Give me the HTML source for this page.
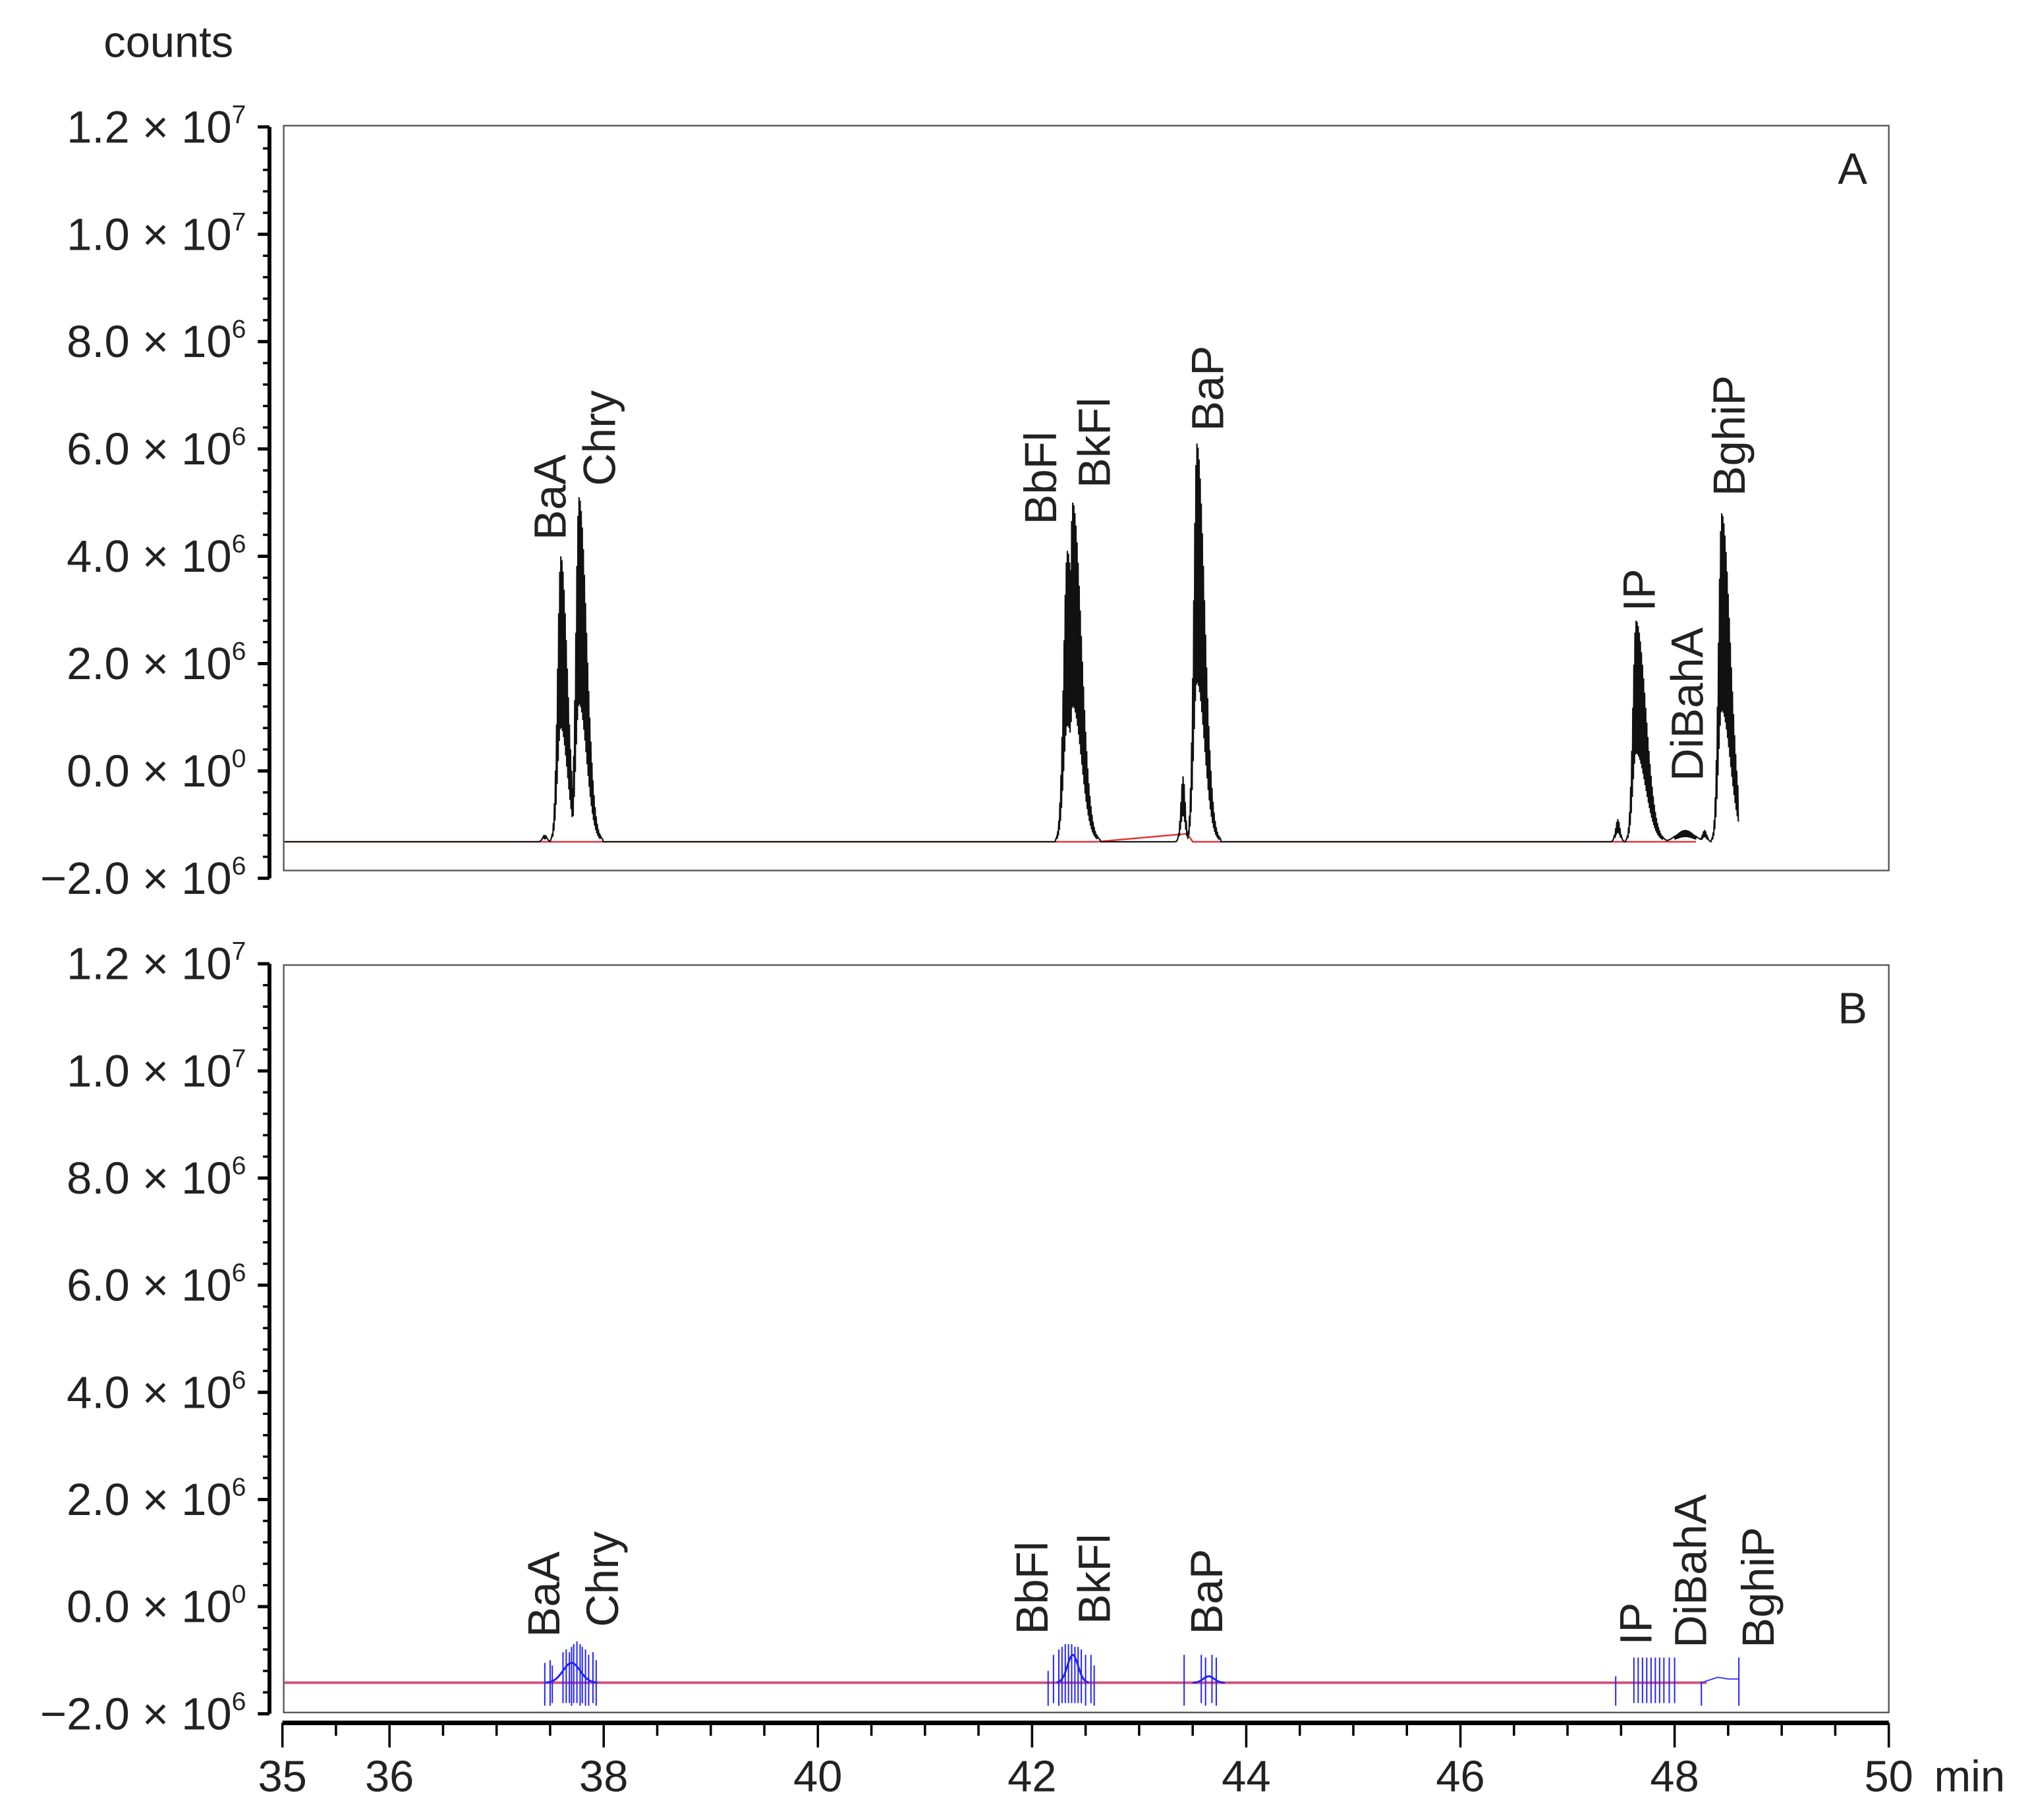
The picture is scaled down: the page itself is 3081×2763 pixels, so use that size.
<!DOCTYPE html>
<html><head><meta charset="utf-8"><style>
html,body{margin:0;padding:0;background:#fff;}
svg{display:block;font-family:"Liberation Sans",sans-serif;}
</style></head><body>
<svg id="chart" width="3081" height="2763" viewBox="0 0 1567 1405" preserveAspectRatio="none" xmlns="http://www.w3.org/2000/svg">
<rect x="0" y="0" width="1567" height="1405" fill="#fff"/>
<g id="root"></g>
</svg>
<script>
// ---- data ----
const yTickValues = [12e6, 10e6, 8e6, 6e6, 4e6, 2e6, 0, -2e6];
const yTickMant = ["1.2", "1.0", "8.0", "6.0", "4.0", "2.0", "0.0", "\u22122.0"];
const yTickExp = ["7", "7", "6", "6", "6", "6", "0", "6"];
const xTickValues = [35, 36, 38, 40, 42, 44, 46, 48, 50];
const compoundNames = ["BaA", "Chry", "BbFl", "BkFl", "BaP", "IP", "DiBahA", "BghiP"];
// panel A peaks: retention time (min), apex counts, left width, right width (min)
const peakTimesA = [37.60, 37.77, 42.33, 42.38, 43.54, 47.64, 48.10, 48.44];
const peakHeightsA = [4.0e6, 5.1e6, 4.1e6, 5.0e6, 6.1e6, 2.8e6, -1.1e6, 4.8e6];
const peakLeftA = [0.03, 0.03, 0.035, 0.03, 0.03, 0.03, 0.08, 0.03];
const peakRightA = [0.06, 0.07, 0.07, 0.08, 0.07, 0.09, 0.08, 0.08];
const smallBumpTimesA = [37.45, 43.41, 47.47, 48.28];
const smallBumpHeightsA = [-1.2e6, -0.1e6, -0.9e6, -1.1e6];
const baselineA = -1.32e6;
const baselineB = -1.42e6;
// label anchors (time at label centre, value at label bottom)
const labelTimesA = [37.50, 37.96, 42.08, 42.58, 43.64, 47.67, 48.12, 48.51];
const labelTopA = [4.3e6, 5.31e6, 4.59e6, 5.27e6, 6.33e6, 2.97e6, -0.19e6, 5.12e6];
const labelTimesB = [37.44, 37.99, 42.00, 42.58, 43.63, 47.64, 48.15, 48.78];
const labelTopB = [-0.57e6, -0.38e6, -0.52e6, -0.33e6, -0.52e6, -0.72e6, -0.77e6, -0.77e6];
// panel B spikes: times, top values, bottom values
const spikeTimesB = [37.45,37.5,37.52,37.62,37.65,37.68,37.7,37.72,37.75,37.78,37.8,37.83,37.86,37.9,37.93,
 42.15,42.2,42.25,42.28,42.31,42.34,42.37,42.4,42.43,42.46,42.5,42.55,42.58,
 43.42,43.58,43.62,43.68,43.72,
 47.45,47.62,47.66,47.7,47.74,47.78,47.82,47.86,47.9,47.95,48.0,48.25,48.6];
const spikeTopB = [-1.05e6,-1.0e6,-1.1e6,-0.85e6,-0.8e6,-0.85e6,-0.75e6,-0.7e6,-0.65e6,-0.7e6,-0.75e6,-0.8e6,-0.9e6,-0.85e6,-1.0e6,
 -1.2e6,-0.9e6,-0.8e6,-0.75e6,-0.7e6,-0.7e6,-0.7e6,-0.75e6,-0.75e6,-0.8e6,-0.9e6,-0.9e6,-1.1e6,
 -0.9e6,-0.9e6,-0.95e6,-0.9e6,-0.95e6,
 -1.3e6,-0.95e6,-0.95e6,-0.95e6,-0.95e6,-0.95e6,-0.95e6,-0.95e6,-0.95e6,-0.95e6,-0.95e6,-1.4e6,-0.95e6];
const spikeBottomB = [-1.85e6,-1.85e6,-1.8e6,-1.8e6,-1.8e6,-1.8e6,-1.85e6,-1.8e6,-1.8e6,-1.85e6,-1.8e6,-1.85e6,-1.85e6,-1.8e6,-1.85e6,
 -1.85e6,-1.8e6,-1.85e6,-1.8e6,-1.8e6,-1.8e6,-1.8e6,-1.8e6,-1.8e6,-1.8e6,-1.85e6,-1.8e6,-1.85e6,
 -1.85e6,-1.8e6,-1.85e6,-1.8e6,-1.85e6,
 -1.85e6,-1.8e6,-1.8e6,-1.8e6,-1.8e6,-1.8e6,-1.8e6,-1.8e6,-1.8e6,-1.8e6,-1.8e6,-1.85e6,-1.85e6];

// ---- layout ----
const NS = "http://www.w3.org/2000/svg";
const root = document.getElementById('root');
const X0 = 218, X1 = 1458;
const panels = [
  {top: 97, bottom: 672, y12: 98, ym2: 678, letter: "A"},
  {top: 745, bottom: 1322, y12: 744, ym2: 1323, letter: "B"}
];
function xs(t){ return X0 + (t - 35) / 15 * (X1 - X0); }
function ysFor(p){ return v => p.y12 + (12e6 - v) / 14e6 * (p.ym2 - p.y12); }
function el(tag, attrs, parent){
  const e = document.createElementNS(NS, tag);
  for (const k in attrs) e.setAttribute(k, attrs[k]);
  (parent || root).appendChild(e);
  return e;
}

const counts = el('text', {x: 80, y: 44, 'font-size': 34, fill: '#222'});


counts.textContent = 'counts';

panels.forEach((p, pi) => {
  const ys = ysFor(p);
  const g = el('g', {});
  
  
  const box = el('rect', {x: X0 + 1, y: p.top, width: X1 - X0 - 1, height: p.bottom - p.top, fill: 'none', stroke: '#555', 'stroke-width': 1.2}, g);
  
  
  const ax = el('line', {x1: 208, y1: ys(12e6), x2: 208, y2: ys(-2e6), stroke: '#000', 'stroke-width': 3}, g);
  
  
  for (let v = -2e6; v <= 12e6 + 1; v += 0.4e6) {
    const major = Math.abs(v / 2e6 - Math.round(v / 2e6)) < 1e-6;
    const t = el('line', {x1: major ? 199 : 203, y1: ys(v), x2: 208, y2: ys(v), stroke: '#000', 'stroke-width': major ? 2.5 : 1.8}, g);
    
    
  }
  yTickValues.forEach((v, i) => {
    const tx = el('text', {x: 190, y: ys(v) + 12, 'font-size': 35, 'text-anchor': 'end', fill: '#222'}, g);
    
    
    const a = el('tspan', {}, tx); a.textContent = yTickMant[i] + ' \u00d7 10';
    const b = el('tspan', {dy: -15, 'font-size': 20}, tx); b.textContent = yTickExp[i];
  });
  const lt = el('text', {x: 1430, y: p.top + 45, 'font-size': 34, 'text-anchor': 'middle', fill: '#222'}, g);
  
  
  lt.textContent = p.letter;

  if (pi === 0) {
    const redPts = [[35.02, baselineA],[42.6, baselineA],[43.45, -1.17e6],[43.5, baselineA],[48.2, baselineA]];
    const rp = el('polyline', {points: redPts.map(q => xs(q[0]) + ',' + ys(q[1])).join(' '), fill: 'none', stroke: '#e03030', 'stroke-width': 1.2}, g);
    
    
    let pts = [];
    for (let t = 35.02; t <= 48.6; t += 0.005) {
      let v = baselineA;
      peakTimesA.forEach((c, i) => {
        const w = t < c ? peakLeftA[i] : peakRightA[i];
        const d = (t - c) / w;
        if (Math.abs(d) < 3.2) v = Math.max(v, baselineA + (peakHeightsA[i] - baselineA) * Math.exp(-d * d / 2));
      });
      smallBumpTimesA.forEach((c, i) => {
        const d = (t - c) / 0.02;
        v = Math.max(v, baselineA + (smallBumpHeightsA[i] - baselineA) * Math.exp(-d * d / 2));
      });
      const k = Math.round(t / 0.005);
      if (v > baselineA + 1e5 && k % 2 === 1) v = baselineA + (v - baselineA) * 0.4;
      pts.push(xs(t).toFixed(2) + ',' + ys(v).toFixed(2));
    }
    const bp = el('polyline', {points: pts.join(' '), fill: 'none', stroke: '#111', 'stroke-width': 1.1}, g);
    
    
  } else {
    const rp = el('line', {x1: xs(35.02), y1: ys(baselineB), x2: xs(48.3), y2: ys(baselineB), stroke: '#d0507a', 'stroke-width': 2}, g);
    
    
    const bl = el('polyline', {points: [[48.25, baselineB],[48.4, -1.32e6],[48.5, -1.35e6],[48.6, -1.35e6]].map(q => xs(q[0]) + ',' + ys(q[1])).join(' '), fill: 'none', stroke: '#4040ff', 'stroke-width': 1}, g);
    
    
    spikeTimesB.forEach((t, i) => {
      const s = el('line', {x1: xs(t), y1: ys(spikeTopB[i]), x2: xs(t), y2: ys(spikeBottomB[i]), stroke: '#2020ff', 'stroke-width': 1}, g);
      
      
    });
    [[37.7, -1.05e6, 0.08],[42.38, -0.9e6, 0.05],[43.65, -1.3e6, 0.05]].forEach(h => {
      const hp = [];
      for (let t = h[0] - 3 * h[2]; t <= h[0] + 3 * h[2]; t += 0.01) {
        const d = (t - h[0]) / h[2];
        hp.push(xs(t) + ',' + ys(baselineB + (h[1] - baselineB) * Math.exp(-d * d / 2)));
      }
      const e = el('polyline', {points: hp.join(' '), fill: 'none', stroke: '#2020ff', 'stroke-width': 1.5}, g);
      
      
    });
  }
  const lTimes = pi === 0 ? labelTimesA : labelTimesB;
  const lTop = pi === 0 ? labelTopA : labelTopB;
  compoundNames.forEach((n, i) => {
    const x = xs(lTimes[i]) + 12, y = ys(lTop[i]);
    const t = el('text', {x: x, y: y, 'font-size': 35, fill: '#222', transform: 'rotate(-90 ' + x + ' ' + y + ')'}, g);
    
    
    t.textContent = n;
  });
});

const xa = el('line', {x1: X0, y1: 1330, x2: X1, y2: 1330, stroke: '#000', 'stroke-width': 3.5});


for (let t = 35; t <= 50.001; t += 0.5) {
  const major = xTickValues.some(v => Math.abs(v - t) < 1e-6);
  const tk = el('line', {x1: xs(t), y1: 1330, x2: xs(t), y2: major ? 1349 : 1340, stroke: '#000', 'stroke-width': 1.8});
  
  
}
xTickValues.forEach(v => {
  const tx = el('text', {x: xs(v), y: 1383, 'font-size': 34, 'text-anchor': 'middle', fill: '#222'});
  
  
  tx.textContent = String(v);
});
const unit = el('text', {x: 1493, y: 1383, 'font-size': 34, fill: '#222'});


unit.textContent = 'min';
</script>
</body></html>
